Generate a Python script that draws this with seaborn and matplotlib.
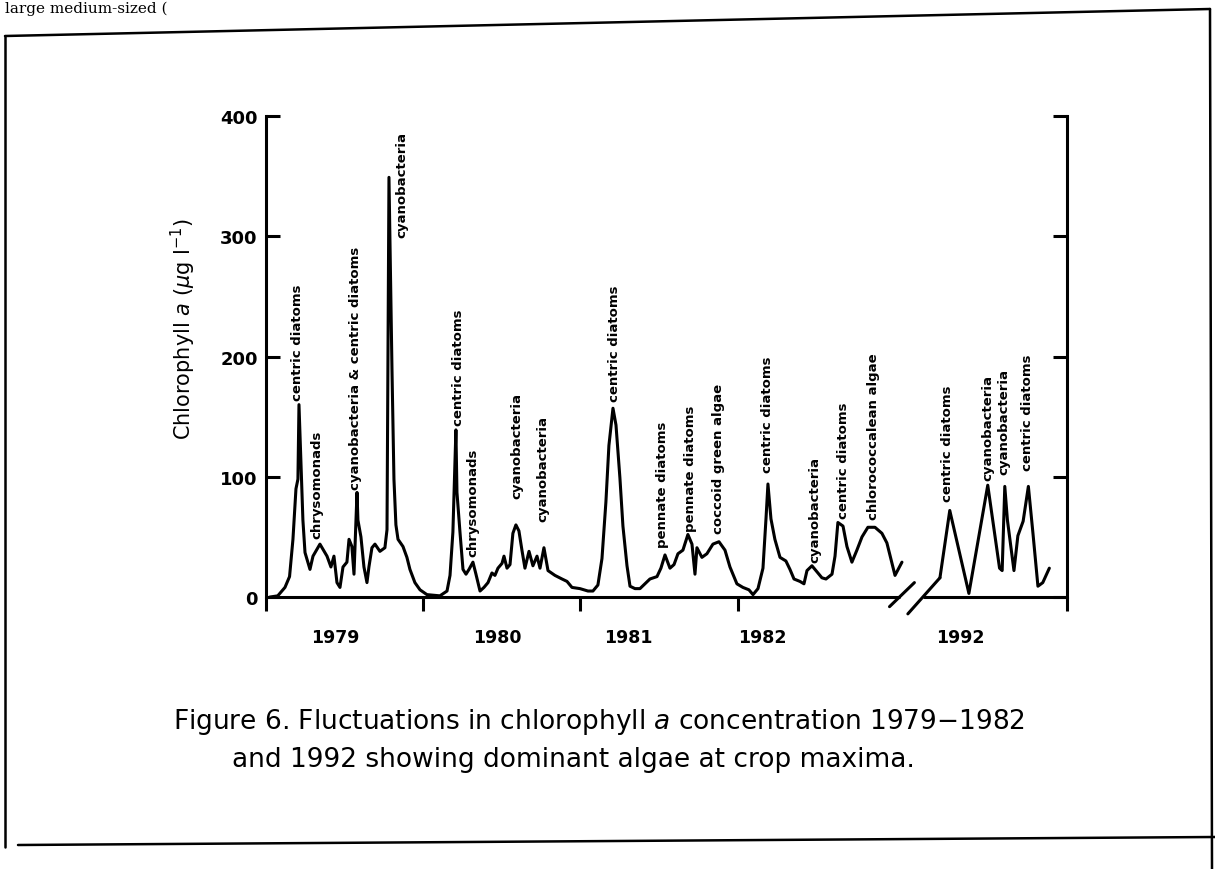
import matplotlib
matplotlib.use("Agg")
import matplotlib.pyplot as plt
import seaborn as sns
import pandas as pd
from matplotlib.lines import Line2D

# 1979-1982 run, x = months since Jan 1979
months_79_82 = [0.3, 0.9, 1.45, 1.8, 2.06, 2.29, 2.44, 2.52, 2.67, 2.82,
                2.98, 3.36, 3.59, 4.12, 4.66, 4.96, 5.19, 5.42, 5.65, 5.88,
                6.18, 6.34, 6.56, 6.72, 6.95, 7.02, 7.25, 7.48, 7.71, 7.86,
                8.09, 8.32, 8.7, 9.08, 9.24, 9.39, 9.62, 9.77, 9.92, 10.08,
                10.46, 10.76, 10.99, 11.37, 11.76, 12.29, 13.28, 13.82, 14.05, 14.27,
                14.35, 14.5, 14.58, 14.81, 15.04, 15.27, 15.5, 15.8, 16.03, 16.34,
                16.64, 16.95, 17.25, 17.48, 17.71, 18.02, 18.17, 18.4, 18.63, 18.85,
                19.08, 19.31, 19.54, 19.77, 20.08, 20.38, 20.69, 20.92, 21.22, 21.53,
                22.06, 22.6, 22.98, 23.36, 23.97, 24.58, 24.96, 25.34, 25.65, 25.95,
                26.18, 26.49, 26.72, 27.02, 27.25, 27.56, 27.79, 28.17, 28.55, 28.93,
                29.31, 29.85, 30.15, 30.46, 30.84, 31.15, 31.45, 31.83, 32.21, 32.52,
                32.75, 32.9, 33.28, 33.66, 34.12, 34.58, 35.04, 35.42, 35.95, 36.41,
                36.87, 37.18, 37.56, 37.94, 38.17, 38.32, 38.55, 38.85, 39.24, 39.69,
                40.0, 40.31, 40.76, 41.07, 41.3, 41.68, 42.06, 42.44, 42.75, 43.21,
                43.44, 43.66, 44.05, 44.35, 44.73, 45.11, 45.5, 45.95, 46.49, 47.02,
                47.4, 47.79, 48.02, 48.55]
chl_79_82 = [0, 1, 8, 17, 48, 90, 98, 160, 112, 64,
             37, 23, 34, 44, 34, 25, 34, 12, 8, 25,
             29, 48, 42, 19, 87, 64, 50, 25, 12, 25,
             41, 44, 38, 41, 56, 349, 189, 98, 60, 48,
             42, 33, 23, 12, 6, 2, 1, 5, 18, 54,
             84, 139, 87, 54, 23, 19, 23, 29, 19, 5,
             8, 12, 20, 18, 24, 28, 34, 24, 27, 53,
             60, 55, 39, 24, 38, 26, 34, 24, 41, 22,
             18, 15, 13, 8, 7, 5, 5, 10, 32, 79,
             126, 157, 143, 99, 59, 26, 9, 7, 7, 11,
             15, 17, 24, 35, 24, 27, 36, 39, 52, 44,
             19, 41, 33, 36, 44, 46, 39, 25, 11, 8,
             6, 2, 7, 24, 65, 94, 65, 48, 33, 30,
             23, 15, 13, 11, 22, 26, 21, 16, 15, 19,
             34, 62, 59, 42, 29, 39, 50, 58, 58, 53,
             45, 28, 18, 29]

# 1992, x = months since Jan 1992
months_1992 = [2.45, 3.2, 4.66, 6.1, 7.0, 7.2, 7.4, 7.6, 8.1, 8.4,
               8.8, 9.2, 9.55, 9.93, 10.3, 10.8]
chl_1992 = [16, 72, 3, 93, 24, 22, 92, 64, 22, 51,
            63, 92, 53, 9, 12, 24]
start_1992 = 49  # where Jan 1992 sits on the broken axis

# dominant algae at crop maxima (x on plot axis, bottom of label)
algae = ["centric diatoms", "chrysomonads", "cyanobacteria & centric diatoms",
         "cyanobacteria", "centric diatoms", "chrysomonads", "cyanobacteria",
         "cyanobacteria", "centric diatoms", "pennate diatoms", "pennate diatoms",
         "coccoid green algae", "centric diatoms", "cyanobacteria",
         "centric diatoms", "chlorococcalean algae", "centric diatoms",
         "cyanobacteria", "cyanobacteria", "centric diatoms"]
algae_x = [2.37, 3.89, 6.87, 10.4, 14.66, 15.8, 19.16, 21.15, 26.64, 30.3,
           32.37, 34.58, 38.32, 41.9, 44.05, 46.34, 52.06, 55.11, 56.34, 58.17]
algae_y = [164, 49, 90, 299, 143, 34, 82, 63, 163, 42,
           55, 53, 104, 29, 66, 65, 80, 97, 102, 106]

years = ["1979", "1980", "1981", "1982", "1992"]
year_pos = [5.27, 17.63, 27.63, 37.86, 52.98]
yticks = [0, 100, 200, 300, 400]

df = pd.concat([
    pd.DataFrame({"x": months_79_82, "chl": chl_79_82, "run": "1979-82"}),
    pd.DataFrame({"x": [start_1992 + m for m in months_1992], "chl": chl_1992, "run": "1992"}),
])

sns.set_style("ticks")
plt.rcParams["font.family"] = ["DejaVu Sans"]
plt.rcParams["mathtext.fontset"] = "dejavusans"
for key in ["text.color", "axes.labelcolor", "xtick.color", "ytick.color", "axes.edgecolor"]:
    plt.rcParams[key] = "black"

fig = plt.figure(figsize=(12.15, 8.7), dpi=100)
ax = fig.add_axes([0.2189, 0.3126, 0.6593, 0.5529])

sns.lineplot(data=df, x="x", y="chl", units="run", estimator=None, sort=False,
             color="black", linewidth=2.2, ax=ax, legend=False)

ax.set_xlim(0, 61.15)
ax.set_ylim(0, 400)

# broken x axis
ax.spines["top"].set_visible(False)
ax.spines["bottom"].set_visible(False)
for side in ["left", "right"]:
    ax.spines[side].set_linewidth(2.2)
ax.plot([0, 48.3], [0, 0], color="black", lw=2.2, clip_on=False)
ax.plot([50.2, 61.15], [0, 0], color="black", lw=2.2, clip_on=False)
ax.plot([47.6, 49.5], [-8, 12], color="black", lw=2.2, clip_on=False)
ax.plot([49.0, start_1992 + months_1992[0]], [-14, chl_1992[0]], color="black", lw=2.2, clip_on=False)

ax.set_yticks(yticks)
ax.set_yticklabels([str(t) for t in yticks])
ax.tick_params(axis="y", direction="in", length=10, width=2.2, right=True,
               labelright=False, labelsize=13, pad=6)
for lab in ax.get_yticklabels():
    lab.set_fontweight("bold")

ax.set_xticks([0, 12, 24, 36, 61.15])
ax.set_xticklabels([])
ax.tick_params(axis="x", which="major", direction="out", length=10, width=2.2)
ax.set_xticks(year_pos, minor=True)
ax.set_xticklabels(years, minor=True, fontsize=12.5, fontweight="bold")
ax.tick_params(axis="x", which="minor", length=0, pad=22)

ax.set_xlabel("")
ax.set_ylabel(r"Chlorophyll $\mathit{a}$ ($\mu$g l$^{-1}$)", fontsize=15)
ax.yaxis.set_label_coords(-0.085, 0.56)

for name, x, y in zip(algae, algae_x, algae_y):
    ax.text(x, y, name, rotation=90, ha="center", va="bottom",
            fontsize=9.5, fontweight="bold", color="black")

# caption
fig.text(173 / 1215, 1 - 722 / 870,
         r"Figure 6. Fluctuations in chlorophyll $\mathit{a}$ concentration 1979$-$1982",
         ha="left", va="center", fontsize=19)
fig.text(232 / 1215, 1 - 760 / 870,
         "and 1992 showing dominant algae at crop maxima.",
         ha="left", va="center", fontsize=19)

# page frame from the scan
def px(x, y):
    return x / 1215, 1 - y / 870

frame = [((5, 37), (1210, 10)), ((5, 37), (5, 848)),
         ((1210, 10), (1212, 870)), ((18, 846), (1215, 838))]
for a, b in frame:
    (x0, y0), (x1, y1) = px(*a), px(*b)
    fig.add_artist(Line2D([x0, x1], [y0, y1], color="black", lw=1.8))

fig.text(0.004, 1 - 2 / 870, "large medium-sized (", ha="left", va="top",
         fontsize=11, family="DejaVu Serif")

fig.savefig("out.png", dpi=100)
